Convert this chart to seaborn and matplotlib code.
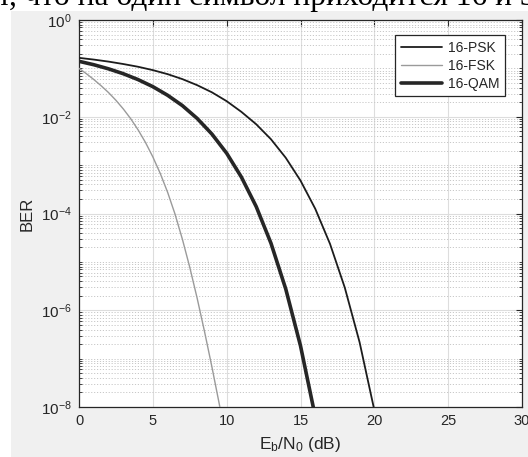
import numpy as np
import pandas as pd
import matplotlib
matplotlib.use("Agg")
import matplotlib.pyplot as plt
import matplotlib.ticker as mticker
from matplotlib.patches import Rectangle
import seaborn as sns

# Eb/N0 grids (dB) and bit error rates for each modulation
ebno_db = [0, 1, 2, 3, 4, 5, 6, 7, 8, 9, 10, 11, 12, 13, 14, 15, 16, 17, 18, 19, 20, 21]
ber_psk = [0.165, 0.152, 0.138, 0.123, 0.108, 0.092, 0.076, 0.060, 0.045, 0.032,
           0.021, 0.0126, 0.0070, 0.00343, 0.00142, 4.79e-4, 1.25e-4, 2.35e-5,
           2.93e-6, 2.19e-7, 8.6e-9, 1.5e-10]
ber_qam = [0.140, 0.119, 0.0978, 0.0775, 0.0586, 0.0419, 0.0278, 0.0170, 0.00924,
           0.00439, 0.00176, 5.64e-4, 1.39e-4, 2.43e-5, 2.76e-6, 1.84e-7, 6.3e-9,
           1.0e-10]
ebno_fsk = [0, 0.5, 1, 1.5, 2, 2.5, 3, 3.5, 4, 4.5, 5, 5.5, 6, 6.5, 7, 7.5, 8,
            8.5, 9, 9.5, 10]
ber_fsk = [0.100, 0.0776, 0.0589, 0.0437, 0.0316, 0.0219, 0.0145, 0.00912,
           0.00537, 0.00295, 0.00148, 6.76e-4, 2.75e-4, 9.77e-5, 2.95e-5, 7.76e-6,
           1.78e-6, 3.63e-7, 6.76e-8, 1.15e-8, 1.82e-9]

series = ["16-PSK", "16-FSK", "16-QAM"]
colors = {"16-PSK": "#1c1c1c", "16-FSK": "#9a9a9a", "16-QAM": "#262626"}
widths = {"16-PSK": 1.3, "16-FSK": 1.0, "16-QAM": 2.6}

df = pd.concat([
    pd.DataFrame({"EbNo": ebno_db[:len(ber_psk)], "BER": ber_psk, "Modulation": "16-PSK"}),
    pd.DataFrame({"EbNo": ebno_fsk, "BER": ber_fsk, "Modulation": "16-FSK"}),
    pd.DataFrame({"EbNo": ebno_db[:len(ber_qam)], "BER": ber_qam, "Modulation": "16-QAM"}),
], ignore_index=True)

sns.set_style("white")
plt.rcParams["font.family"] = ["Liberation Sans", "DejaVu Sans"]
plt.rcParams["mathtext.fontset"] = "custom"
plt.rcParams["mathtext.rm"] = "Liberation Sans"
plt.rcParams["mathtext.it"] = "Liberation Sans"
plt.rcParams["mathtext.default"] = "regular"

W, H = 528, 457
fig = plt.figure(figsize=(W / 100, H / 100), dpi=100)
fig.patch.set_facecolor("white")

# grey figure panel below the line of page text
fig.patches.append(Rectangle((11 / W, 0), 1 - 11 / W, 1 - 11 / H,
                             transform=fig.transFigure, facecolor="#f0f0f0",
                             edgecolor="none", zorder=-5))

# line of page text above the figure; its left part runs off the page
serif = ["Liberation Serif", "DejaVu Serif"]
text_size = 22.7
prefix = "значит, что "
line = prefix + "на один символ приходится 16 и 32 бита"
renderer = fig.canvas.get_renderer()
probe = fig.text(0, 0, prefix, family=serif, fontsize=text_size)
pw = probe.get_window_extent(renderer).width
probe.remove()
fig.text((78 - pw) / W, 1 - 5.5 / H, line, family=serif, fontsize=text_size,
         color="black", ha="left", va="baseline")

ax = fig.add_axes([79 / W, (H - 407) / H, 443 / W, 387 / H])
ax.set_facecolor("white")

for name in series:
    sns.lineplot(data=df[df["Modulation"] == name], x="EbNo", y="BER", ax=ax,
                 color=colors[name], linewidth=widths[name], label=name,
                 estimator=None, sort=True, zorder=3)

ax.set_yscale("log")
ax.set_xlim(0, 30)
ax.set_ylim(1e-8, 1)

ax.xaxis.set_major_locator(mticker.FixedLocator([0, 5, 10, 15, 20, 25, 30]))
ax.yaxis.set_major_locator(mticker.FixedLocator([1e-8, 1e-6, 1e-4, 1e-2, 1]))
minor = [k * 10.0 ** e for e in range(-8, 0) for k in range(1, 10)
         if not (k == 1 and e % 2 == 0)]
ax.yaxis.set_minor_locator(mticker.FixedLocator(minor))
ax.yaxis.set_minor_formatter(mticker.NullFormatter())
ax.yaxis.set_major_formatter(mticker.FuncFormatter(
    lambda v, p: r"$10^{%d}$" % int(round(np.log10(v)))))

ax.grid(True, which="major", color="#dddddd", linewidth=0.8, linestyle="-")
ax.grid(True, which="minor", axis="y", color="#c8c8c8", linewidth=0.7,
        linestyle=(0, (1.2, 1.8)))
ax.set_axisbelow(True)

label_color = "#262626"
ax.tick_params(which="major", direction="in", length=4, width=0.8,
               top=True, right=True, colors="#262626", labelsize=10.5,
               labelcolor=label_color, pad=5)
ax.tick_params(axis="y", which="major", labelsize=11)
ax.tick_params(which="minor", direction="in", length=2, width=0.6,
               left=True, right=True, colors="#262626")
for s in ax.spines.values():
    s.set_color("#262626")
    s.set_linewidth(0.9)

ax.set_xlabel(r"$E_b/N_0$ (dB)", fontsize=12.5, color=label_color, labelpad=5)
ax.set_ylabel("BER", fontsize=12, color=label_color, labelpad=5)

leg = ax.legend(loc="upper right", bbox_to_anchor=(0.9616, 0.9612),
                borderaxespad=0, frameon=True, fancybox=False, fontsize=10,
                handlelength=3.0, handletextpad=0.4, labelspacing=0.3,
                borderpad=0.4)
leg.get_frame().set_edgecolor("#262626")
leg.get_frame().set_linewidth(0.9)
leg.get_frame().set_facecolor("white")
leg.get_frame().set_alpha(1)
for t in leg.get_texts():
    t.set_color(label_color)

fig.savefig("out.png", dpi=100, facecolor=fig.get_facecolor())
